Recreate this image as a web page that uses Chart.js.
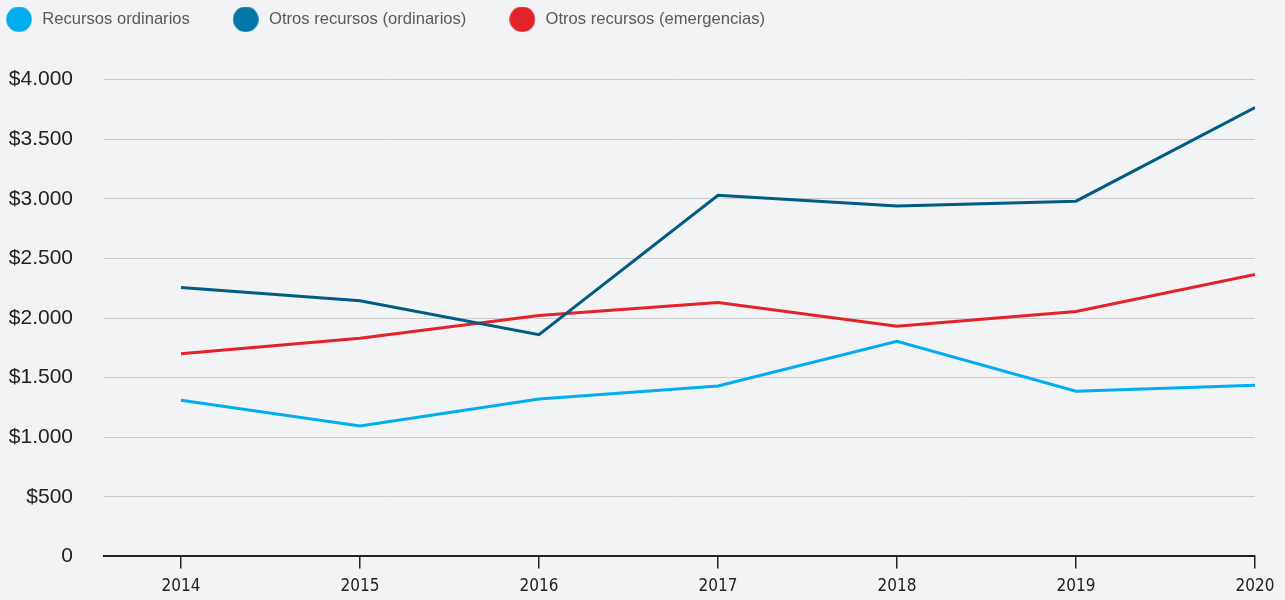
<!DOCTYPE html>
<html>
<head>
<meta charset="utf-8">
<script src="https://cdn.jsdelivr.net/npm/chart.js@4"></script>
<style>
  html, body { margin: 0; padding: 0; background: #f2f3f5; }
  #wrap { width: 1285px; height: 600px; }
</style>
</head>
<body>
<div id="wrap"><canvas id="grafico"></canvas></div>
<script>
// datos
let anios = [2014, 2015, 2016, 2017, 2018, 2019, 2020]
let recursosOrdinarios = [1310, 1095, 1320, 1430, 1805, 1385, 1435]
let otrosOrdinarios = [2255, 2145, 1860, 3030, 2940, 2980, 3765]
let otrosEmergencias = [1700, 1830, 2020, 2130, 1930, 2055, 2365]
let nombresSeries = ["Recursos ordinarios", "Otros recursos (ordinarios)", "Otros recursos (emergencias)"]
let yTicks = [0, 500, 1000, 1500, 2000, 2500, 3000, 3500, 4000]
let yTickLabels = ["0", "$500", "$1.000", "$1.500", "$2.000", "$2.500", "$3.000", "$3.500", "$4.000"]

// circulo de la leyenda
function circulo(color) {
    let c = document.createElement("canvas")
    c.width = 26
    c.height = 26
    let ctx = c.getContext("2d")
    ctx.fillStyle = color
    ctx.beginPath()
    ctx.arc(13, 13, 12.8, 0, Math.PI * 2)
    ctx.fill()
    return c
}

function puntos(valores) {
    return valores.map((v, i) => ({ x: anios[i], y: v }))
}

const fondo = {
    id: "fondo",
    beforeDraw(chart) {
        const ctx = chart.ctx
        ctx.save()
        ctx.fillStyle = "#f2f3f5"
        ctx.fillRect(0, 0, chart.width, chart.height)
        ctx.restore()
    }
}

let myChart = new Chart(document.getElementById("grafico"), {
    type: "line",
    data: {
        datasets: [
            {
                label: nombresSeries[0],
                data: puntos(recursosOrdinarios),
                borderColor: "#00aeef",
                pointStyle: circulo("#00aeef")
            },
            {
                label: nombresSeries[1],
                data: puntos(otrosOrdinarios),
                borderColor: "#005c80",
                pointStyle: circulo("#0077a6")
            },
            {
                label: nombresSeries[2],
                data: puntos(otrosEmergencias),
                borderColor: "#e3222a",
                pointStyle: circulo("#e3222a")
            }
        ]
    },
    options: {
        responsive: true,
        maintainAspectRatio: false,
        animation: false,
        layout: { padding: { left: 0, right: 30, top: 7, bottom: 0 } },
        elements: {
            line: { borderWidth: 3, tension: 0, borderCapStyle: "butt" },
            point: { radius: 0, hoverRadius: 0 }
        },
        plugins: {
            tooltip: { enabled: false },
            // espacio entre leyenda y grafico
            title: {
                display: true,
                text: "",
                weight: 500,
                padding: { top: 32, bottom: 0 },
                font: { size: 10, lineHeight: 1 }
            },
            legend: {
                display: true,
                position: "top",
                align: "start",
                labels: {
                    usePointStyle: true,
                    pointStyleWidth: 30,
                    padding: 4,
                    color: "#5a5a5a",
                    font: { family: "'Liberation Sans', Arial, sans-serif", size: 16.6 },
                    generateLabels: (chart) => Chart.defaults.plugins.legend.labels.generateLabels(chart)
                        .map(l => ({ ...l, text: l.text + "        " }))
                }
            }
        },
        scales: {
            x: {
                type: "linear",
                min: 2013.57,
                max: 2020,
                afterBuildTicks: (scale) => {
                    scale.ticks = anios.map(a => ({ value: a }))
                },
                afterFit: (scale) => {
                    scale.height = 42
                },
                grid: {
                    drawOnChartArea: false,
                    drawTicks: true,
                    tickLength: 12,
                    color: "#222",
                    lineWidth: 1.5
                },
                border: { display: true, color: "#222", width: 2 },
                ticks: {
                    color: "#222",
                    padding: 8,
                    callback: (v) => String(v),
                    font: { family: "'Liberation Sans Narrow', 'DejaVu Sans Condensed', sans-serif", size: 17 }
                }
            },
            y: {
                min: 0,
                max: 4000,
                afterBuildTicks: (scale) => {
                    scale.ticks = yTicks.map(v => ({ value: v }))
                },
                afterFit: (scale) => {
                    scale.width = 104
                },
                grid: { color: "#c9cacc", lineWidth: 1, drawTicks: false },
                border: { display: false },
                ticks: {
                    color: "#222",
                    padding: 31,
                    callback: (v) => yTickLabels[yTicks.indexOf(v)],
                    font: { family: "'Liberation Sans', Arial, sans-serif", size: 21 }
                }
            }
        }
    },
    plugins: [fondo]
})
</script>
</body>
</html>
